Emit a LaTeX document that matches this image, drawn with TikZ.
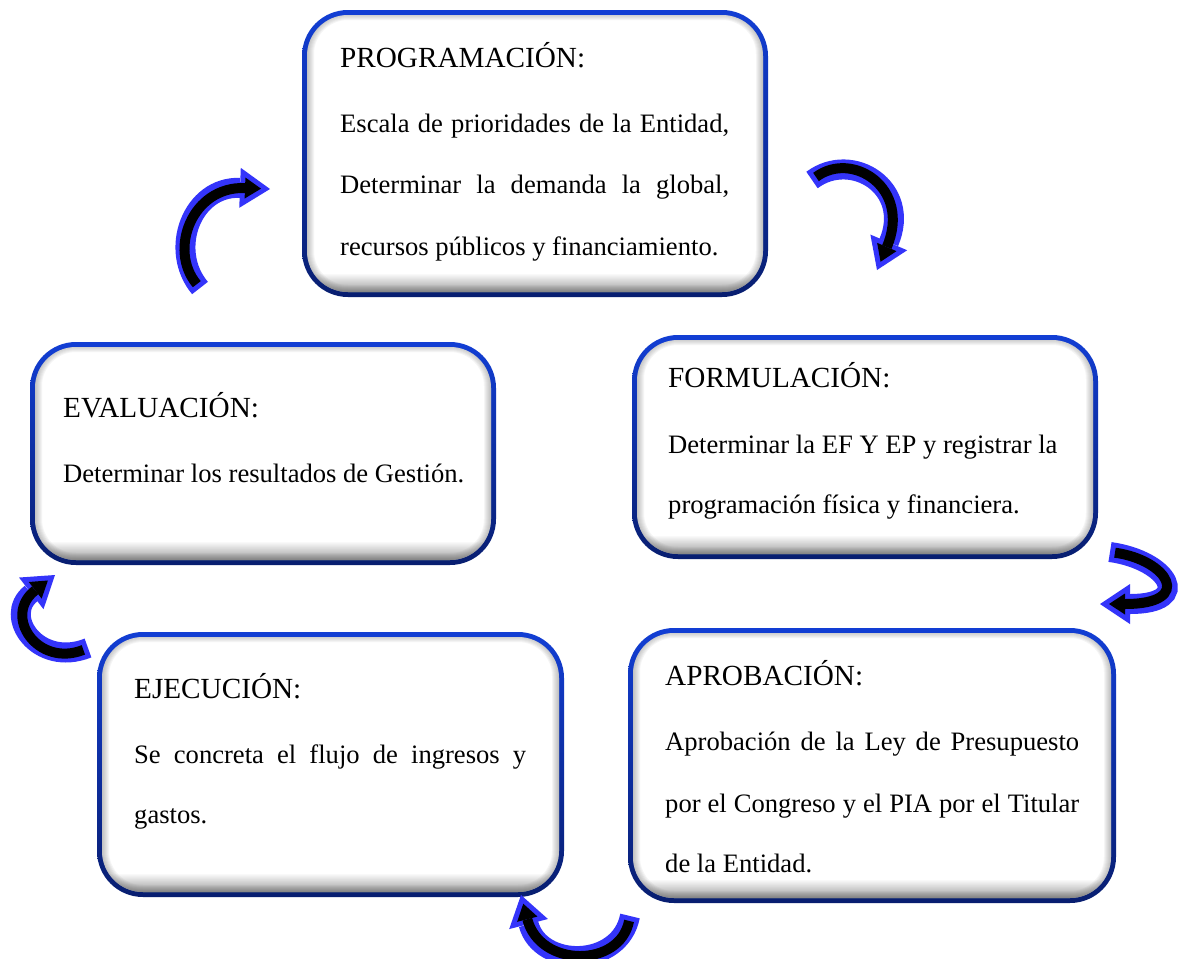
\documentclass[tikz,border=0pt]{standalone}
\usepackage{fontspec}
\setmainfont{Liberation Serif}
\usetikzlibrary{arrows.meta,fadings}
\definecolor{bordtop}{RGB}{18,62,212}
\definecolor{bordbot}{RGB}{8,30,112}
\definecolor{arrblue}{RGB}{52,52,250}
\definecolor{shadowgray}{RGB}{90,90,90}
\tikzfading[name=bfade, top color=transparent!100, bottom color=transparent!0]
% name, x1, y1, x2, y2 (pixel coordinates, y downwards)
\newcommand\cyclebox[5]{%
  \shade[top color=bordtop, bottom color=bordbot, rounded corners=46pt] (#2,#3) rectangle (#4,#5);
  \begin{scope}
    \clip[rounded corners=41pt] (#2+5,#3+5) rectangle (#4-5,#5-5);
    \fill[white] (#2,#3) rectangle (#4,#5);
    \foreach \k in {1,...,7}{
      \draw[shadowgray, opacity=0.06, line width=\k*2pt, rounded corners=41pt] (#2+5,#3+3) rectangle (#4-5,#5-5);
    }
    \fill[shadowgray, path fading=bfade, opacity=0.75] (#2,#5-24) rectangle (#4,#5);
  \end{scope}
  \node[name=#1, inner sep=0pt, minimum width={(#4-#2)*1pt}, minimum height={(#5-#3)*1pt}] at ({(#2+#4)/2},{(#3+#5)/2}) {};
}
\newcommand\cyclearrow[4]{%
  \draw[arrout] #1 .. controls #2 and #3 .. #4;
  \draw[arrin] #1 .. controls #2 and #3 .. #4;
}
\begin{document}
\begin{tikzpicture}[x=1pt,y=-1pt,
  bodytext/.style={anchor=base west, inner sep=0pt, font=\fontsize{26.6}{30}\selectfont},
  titletext/.style={anchor=base west, inner sep=0pt, font=\fontsize{29.2}{32}\selectfont},
  arrout/.style={draw=arrblue, line width=20pt, line cap=butt, -{Triangle[length=30pt,width=40pt,line width=0pt]}},
  arrin/.style={draw=black, line width=10pt, line cap=butt, shorten >=9pt, shorten <=5pt, -{Triangle[length=16pt,width=21pt,line width=0pt]}}]
\fill[white] (0,0) rectangle (1187,959);
\useasboundingbox (0,0) rectangle (1187,959);

% boxes
\cyclebox{prog}{302}{10}{768}{297}
\cyclebox{eval}{30}{342}{496}{565}
\cyclebox{form}{632}{335}{1098}{559}
\cyclebox{ejec}{97}{632}{564}{897}
\cyclebox{apro}{628}{628}{1116}{903}

% texts
\node[titletext] (progT) at (340,67) {PROGRAMACIÓN:};
\node[bodytext] (prog1) at (340,132) {\makebox[389pt][s]{Escala de prioridades de la Entidad,}};
\node[bodytext] (prog2) at (340,193) {\makebox[389pt][s]{Determinar la demanda la global,}};
\node[bodytext] (prog3) at (340,255) {recursos públicos y financiamiento.};

\node[titletext] (evalT) at (63,417) {EVALUACIÓN:};
\node[bodytext] (eval1) at (63,482) {Determinar los resultados de Gestión.};

\node[titletext] (formT) at (668,387) {FORMULACIÓN:};
\node[bodytext] (form1) at (668,453) {Determinar la EF Y EP y registrar la};
\node[bodytext] (form2) at (668,513) {programación física y financiera.};

\node[titletext] (ejecT) at (134,698) {EJECUCIÓN:};
\node[bodytext] (ejec1) at (134,763) {\makebox[392pt][s]{Se concreta el flujo de ingresos y}};
\node[bodytext] (ejec2) at (134,823) {gastos.};

\node[titletext] (aproT) at (665,685) {APROBACIÓN:};
\node[bodytext] (apro1) at (665,750) {\makebox[414pt][s]{Aprobación de la Ley de Presupuesto}};
\node[bodytext] (apro2) at (665,812) {\makebox[414pt][s]{por el Congreso y el PIA por el Titular}};
\node[bodytext] (apro3) at (665,872) {de la Entidad.};

% arrows
\coordinate (a1s) at (200,288);
\coordinate (a1e) at (270,189);
\coordinate (a2s) at (812,180);
\coordinate (a2e) at (877,270);
\coordinate (a3s) at (1110,552);
\coordinate (a3e) at (1100,604);
\coordinate (a4s) at (630,916);
\coordinate (a4e) at (521,895);
\coordinate (a5s) at (88,648);
\coordinate (a5e) at (55,575);

\cyclearrow{(a1s)}{(168,250)}{(192,186)}{(a1e)}
\cyclearrow{(a2s)}{(852,150)}{(912,188)}{(a2e)}
\cyclearrow{(a3s)}{(1168,560)}{(1195,604)}{(a3e)}
\cyclearrow{(a4s)}{(620,968)}{(540,968)}{(a4e)}
\cyclearrow{(a5s)}{(38,668)}{(2,616)}{(a5e)}
\end{tikzpicture}
\end{document}
